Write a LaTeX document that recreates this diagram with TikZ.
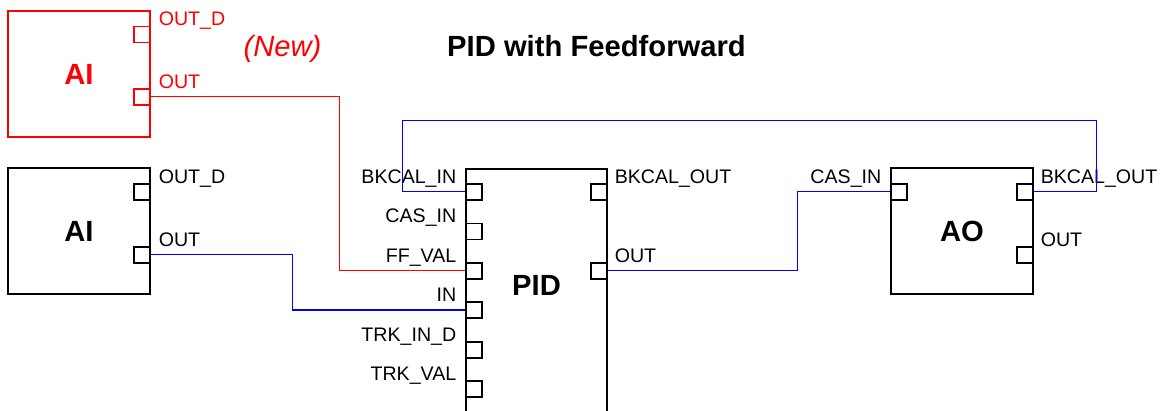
\documentclass[tikz,border=0pt]{standalone}
\usepackage{fontspec}
\setmainfont{Liberation Sans}
\usetikzlibrary{positioning}
\colorlet{wireBlue}{blue}
\colorlet{newRed}{red}

\begin{document}
\begin{tikzpicture}[x=1pt, y=-1pt,
    every node/.style={font=\fontsize{19.6}{22}\selectfont},
    block/.style={draw, line width=1.2pt, minimum width=142pt, minimum height=126pt, inner sep=0pt, font=\fontsize{29.2}{32}\selectfont\bfseries},
    port/.style={draw, line width=1.1pt, minimum size=16pt, inner sep=0pt},
    plabel/.style={inner sep=0pt},
    bigtext/.style={inner sep=0pt, font=\fontsize{29.2}{32}\selectfont\bfseries},
    wire/.style={line width=1pt}]
    \useasboundingbox (0,0) rectangle (1166,411);

    % Titles
    \node[bigtext, anchor=base] (title) at (596.5,57) {PID with Feedforward};
    \node[bigtext, anchor=base, font=\fontsize{29.2}{32}\selectfont\itshape, text=newRed] (newtag) at (282.5,57) {(New)};

    % New AI block (red)
    \node[block, draw=newRed, text=newRed] (air) at (79,74) {AI};
    \node[port, draw=newRed] (air-outd) at (142,34.5) {};
    \node[port, draw=newRed] (air-out) at (142,97) {};
    \node[plabel, text=newRed, right=8pt of air-outd.north east, anchor=base west] {OUT\_D};
    \node[plabel, text=newRed, right=8pt of air-out.north east, anchor=base west] {OUT};

    % AI block
    \node[block] (ai) at (79,231) {AI};
    \node[port] (ai-outd) at (142,192) {};
    \node[port] (ai-out) at (142,255) {};
    \node[plabel, right=8pt of ai-outd.north east, anchor=base west] {OUT\_D};
    \node[plabel, right=8pt of ai-out.north east, anchor=base west] {OUT};

    % PID block
    \node[block, minimum width=141pt, minimum height=300pt] (pid) at (536.5,319) {};
    \node[bigtext, anchor=base] (pidname) at (536.5,295) {PID};
    \node[port] (pid-bk) at (474,192) {};
    \node[port] (pid-cas) at (474,231.5) {};
    \node[port] (pid-ff) at (474,271) {};
    \node[port] (pid-in) at (474,310) {};
    \node[port] (pid-trkd) at (474,350) {};
    \node[port] (pid-trkv) at (474,389) {};
    \node[port] (pid-bkout) at (599,192) {};
    \node[port] (pid-out) at (599,271) {};
    \node[plabel, left=9pt of pid-bk.north west, anchor=base east] {BKCAL\_IN};
    \node[plabel, left=9pt of pid-cas.north west, anchor=base east] {CAS\_IN};
    \node[plabel, left=9pt of pid-ff.north west, anchor=base east] {FF\_VAL};
    \node[plabel, left=9pt of pid-in.north west, anchor=base east] {IN};
    \node[plabel, left=9pt of pid-trkd.north west, anchor=base east] {TRK\_IN\_D};
    \node[plabel, left=9pt of pid-trkv.north west, anchor=base east] {TRK\_VAL};
    \node[plabel, right=7pt of pid-bkout.north east, anchor=base west] {BKCAL\_OUT};
    \node[plabel, right=7pt of pid-out.north east, anchor=base west] {OUT};

    % AO block
    \node[block] (ao) at (962,231) {AO};
    \node[port] (ao-cas) at (899,192) {};
    \node[port] (ao-bk) at (1025,192) {};
    \node[port] (ao-out) at (1025,255) {};
    \node[plabel, left=9pt of ao-cas.north west, anchor=base east] {CAS\_IN};
    \node[plabel, right=7pt of ao-bk.north east, anchor=base west] {BKCAL\_OUT};
    \node[plabel, right=7pt of ao-out.north east, anchor=base west] {OUT};

    % Wires
    \draw[wire, newRed] (air-out.east) -- ++(189,0) |- (pid-ff.west);
    \draw[wire, wireBlue] (ai-out.east) -- ++(142,0) |- (pid-in.west);
    \draw[wire, wireBlue] (pid-out.east) -- ++(190,0) |- (ao-cas.west);
    \draw[wire, wireBlue] (ao-bk.east) -- ++(63,0) -- ++(0,-71) -| ++(-694,71) -- (pid-bk.west);
\end{tikzpicture}
\end{document}
